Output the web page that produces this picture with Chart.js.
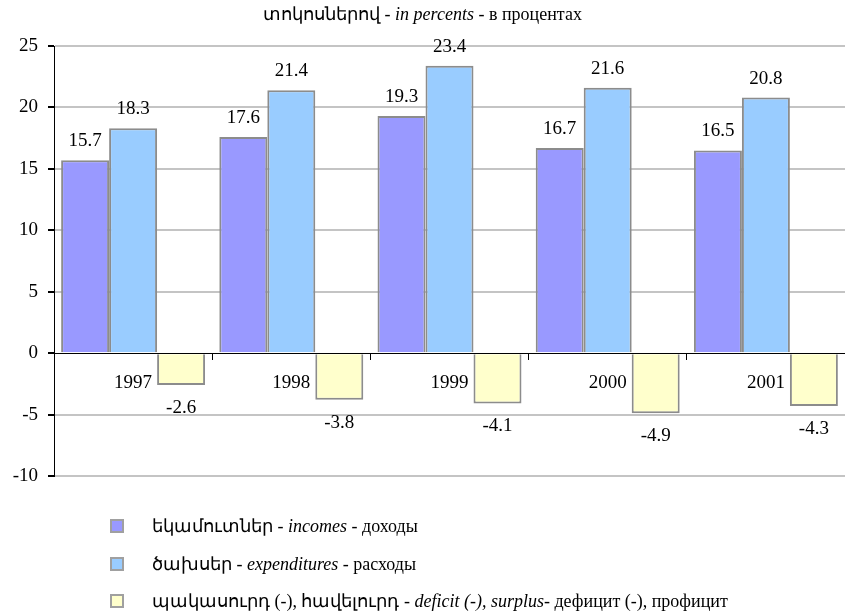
<!DOCTYPE html>
<html>
<head>
<meta charset="utf-8">
<script src="https://cdn.jsdelivr.net/npm/chart.js@4"></script>
<style>
  html, body { margin: 0; padding: 0; background: #fff; }
  #wrap { position: relative; width: 845px; height: 612px; overflow: hidden; font-family: "Liberation Serif", serif; color: #000; }
  #title { position: absolute; top: 3px; left: 0; width: 845px; text-align: center; font-size: 18px; }
  #legend { position: absolute; left: 110px; top: 515px; font-size: 18px; }
  .row { height: 37.5px; display: flex; align-items: flex-start; }
  .box { width: 10px; height: 10px; border: 2px solid #a0a0a0; margin-top: 4px; margin-right: 28px; }
</style>
</head>
<body>
<div id="wrap">
  <div id="title">տոկոսներով - <i>in percents</i> - в процентах</div>
  <canvas id="myChart" width="845" height="612"></canvas>
  <div id="legend"></div>
</div>
<script>
const years = ['1997', '1998', '1999', '2000', '2001'];
const incomes = [15.7, 17.6, 19.3, 16.7, 16.5];
const expenditures = [18.3, 21.4, 23.4, 21.6, 20.8];
const deficit = [-2.6, -3.8, -4.1, -4.9, -4.3];
const legendLabels = [
  'եկամուտներ - <i>incomes</i> - доходы',
  'ծախսեր - <i>expenditures</i> - расходы',
  'պակասուրդ (-), հավելուրդ - <i>deficit (-), surplus</i>- дефицит (-), профицит'
];

const font = { family: '"Liberation Serif", serif', size: 19 };

// value labels over / under each bar
const barLabels = {
  id: 'barLabels',
  afterDatasetsDraw(chart) {
    const ctx = chart.ctx;
    ctx.save();
    ctx.font = '19px "Liberation Serif"';
    ctx.fillStyle = '#000';
    ctx.textAlign = 'center';
    ctx.textBaseline = 'middle';
    chart.data.datasets.forEach((ds, i) => {
      chart.getDatasetMeta(i).data.forEach((bar, j) => {
        const v = ds.data[j];
        const y = v >= 0 ? bar.y - 19 : bar.y + 23;
        ctx.fillText(v.toFixed(1), bar.x, y);
      });
    });
    ctx.restore();
  }
};

const ctx = document.getElementById('myChart');
const myChart = new Chart(ctx, {
  type: 'bar',
  data: {
    labels: years,
    datasets: [
      { label: 'incomes', data: incomes, backgroundColor: '#9999ff', borderColor: '#8c8c8c', borderWidth: 2 },
      { label: 'expenditures', data: expenditures, backgroundColor: '#99ccff', borderColor: '#8c8c8c', borderWidth: 2 },
      { label: 'deficit', data: deficit, backgroundColor: '#ffffcc', borderColor: '#8c8c8c', borderWidth: 2 }
    ]
  },
  options: {
    responsive: false,
    animation: false,
    layout: { padding: { top: 46, bottom: 136, left: 0, right: 0 } },
    datasets: { bar: { categoryPercentage: 0.91, barPercentage: 1.0 } },
    plugins: {
      legend: { display: false },
      title: { display: false },
      tooltip: { enabled: false }
    },
    scales: {
      x: {
        position: { y: 0 },
        grid: { display: true, drawOnChartArea: false, drawTicks: true, tickLength: 6, tickColor: '#000', offset: true },
        border: { display: true, color: '#000', width: 1 },
        ticks: { color: '#000', font: font, padding: 12, maxRotation: 0 }
      },
      y: {
        min: -10,
        max: 25,
        afterFit: (scale) => { scale.width = 54; },
        ticks: { stepSize: 5, color: '#000', font: font, padding: 10 },
        grid: {
          color: (c) => c.tick && c.tick.value === 0 ? 'rgba(0,0,0,0)' : '#c4c4c4',
          lineWidth: 2,
          tickColor: '#000',
          tickLength: 6
        },
        border: { display: true, color: '#000', width: 1 }
      }
    }
  },
  plugins: [barLabels]
});

const legend = document.getElementById('legend');
myChart.data.datasets.forEach((ds, i) => {
  const row = document.createElement('div');
  row.className = 'row';
  row.innerHTML = '<span class="box" style="background:' + ds.backgroundColor + '"></span><span>' + legendLabels[i] + '</span>';
  legend.appendChild(row);
});
</script>
</body>
</html>
